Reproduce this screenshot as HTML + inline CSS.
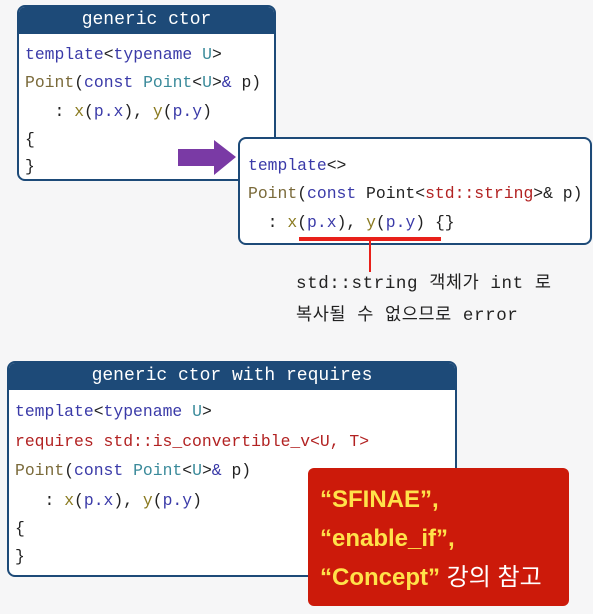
<!DOCTYPE html>
<html><head><meta charset="utf-8"><style>
body{margin:0;width:593px;height:614px;background:#f6f6f7;position:relative;overflow:hidden;font-family:"Liberation Mono","Noto Sans CJK KR",monospace;}
.box{position:absolute;background:#fff;border:2px solid #1d4a78;border-radius:8px;box-sizing:border-box;overflow:hidden}
.hd{background:#1d4a78;color:#fff;text-align:center;font-size:18px;height:27px;line-height:27px;}
.l{position:absolute;font-size:16.4px;white-space:pre;line-height:20px;color:#222}
.k{color:#3a3aa8}.t{color:#3a8a9a}.f{color:#7a6a3a}.r{color:#b22222}.v{color:#8a7a20}
</style></head><body>
<div class="box" style="left:17px;top:5px;width:259px;height:176px">
<div class="hd">generic ctor</div>
<div class="l" style="left:6px;top:38px"><span class="k">template</span>&lt;<span class="k">typename</span> <span class="t">U</span>&gt;</div>
<div class="l" style="left:6px;top:66px"><span class="f">Point</span>(<span class="k">const</span> <span class="t">Point</span>&lt;<span class="t">U</span>&gt;<span class="k">&amp;</span> p)</div>
<div class="l" style="left:6px;top:95px">   : <span class="v">x</span>(<span class="k">p.x</span>), <span class="v">y</span>(<span class="k">p.y</span>)</div>
<div class="l" style="left:6px;top:123px">{</div>
<div class="l" style="left:6px;top:150px">}</div>
</div>
<svg style="position:absolute;left:0;top:0" width="593" height="614">
<polygon points="178,149 214,149 214,140 236,157 214,175 214,166 178,166" fill="#7a3aa5"/>
</svg>
<div class="box" style="left:238px;top:137px;width:354px;height:108px">
<div class="l" style="left:8px;top:17px"><span class="k">template</span>&lt;&gt;</div>
<div class="l" style="left:8px;top:45px"><span class="f">Point</span>(<span class="k">const</span> Point&lt;<span class="r">std::string</span>&gt;&amp; p)</div>
<div class="l" style="left:8px;top:74px">  : <span class="v">x</span>(<span class="k">p.x</span>), <span class="v">y</span>(<span class="k">p.y</span>) {}</div>
</div>
<svg style="position:absolute;left:0;top:0" width="593" height="614">
<rect x="299" y="237" width="142" height="4" fill="#e8201a"/>
<line x1="370" y1="240" x2="370" y2="272" stroke="#e8201a" stroke-width="2"/>
</svg>
<div class="l" style="left:296px;top:274px;font-size:17.5px;letter-spacing:0.6px">std::string 객체가 int 로</div>
<div class="l" style="left:296px;top:306px;font-size:17.5px;letter-spacing:0.6px">복사될 수 없으므로 error</div>
<div class="box" style="left:7px;top:361px;width:450px;height:216px">
<div class="hd">generic ctor with requires</div>
<div class="l" style="left:6px;top:39px"><span class="k">template</span>&lt;<span class="k">typename</span> <span class="t">U</span>&gt;</div>
<div class="l r" style="left:6px;top:69px;color:#b22222">requires std::is_convertible_v&lt;U, T&gt;</div>
<div class="l" style="left:6px;top:98px"><span class="f">Point</span>(<span class="k">const</span> <span class="t">Point</span>&lt;<span class="t">U</span>&gt;<span class="k">&amp;</span> p)</div>
<div class="l" style="left:6px;top:128px">   : <span class="v">x</span>(<span class="k">p.x</span>), <span class="v">y</span>(<span class="k">p.y</span>)</div>
<div class="l" style="left:6px;top:156px">{</div>
<div class="l" style="left:6px;top:184px">}</div>
</div>
<div style="position:absolute;left:308px;top:468px;width:261px;height:138px;background:#cc1a0a;border-radius:6px;font-family:'Liberation Sans','Noto Sans CJK KR',sans-serif;font-size:24px;color:#ffe24a;font-weight:bold;line-height:39px;padding-top:12px;padding-left:12px;box-sizing:border-box;white-space:pre">“SFINAE”,
“enable_if”,
“Concept” <span style="color:#fff;font-weight:normal">강의 참고</span></div>
</body></html>
